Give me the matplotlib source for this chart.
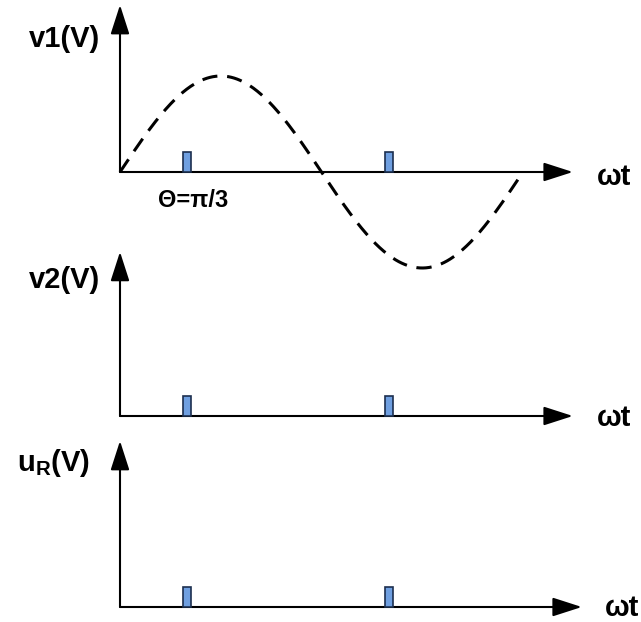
import numpy as np
import matplotlib
matplotlib.use("Agg")
import matplotlib.pyplot as plt

plt.rcParams['font.family'] = ['Liberation Sans', 'DejaVu Sans']
plt.rcParams['mathtext.fontset'] = 'custom'
plt.rcParams['mathtext.rm'] = 'Liberation Sans'
plt.rcParams['mathtext.bf'] = 'Liberation Sans:bold'

# data
panel_labels = ['v1(V)', 'v2(V)', r'$\mathbf{u_R(V)}$']
axis_label = 'ωt'
theta_label = 'Θ=π/3'
marker_angles = [np.pi / 3, 4 * np.pi / 3]
v1_amplitude = 1.0
v1_period = 2 * np.pi

# layout (pixels from top of a 641x622 figure)
W, H = 641, 622
x0_px = 120
px_per_rad = 403 / (2 * np.pi)
px_per_unit = 96
baselines = [172, 416, 607]
y_tips = [1.74, 1.71, 1.73]
x_ends = [7.06, 7.06, 7.20]
label_pos = [(-0.86, 1.385), (-0.86, 1.42), (-1.04, 1.50)]
wt_pos = [(7.44, -0.05), (7.44, -0.02), (7.56, -0.01)]

fig = plt.figure(figsize=(W / 100, H / 100), dpi=100)

xlim = (-x0_px / px_per_rad, (W - x0_px) / px_per_rad)

for i, b in enumerate(baselines):
    ax = fig.add_axes([0, 0, 1, 1])
    ax.set_facecolor('none')
    ax.set_xlim(*xlim)
    ax.set_ylim(-(H - b) / px_per_unit, b / px_per_unit)
    ax.axis('off')

    arrow = dict(arrowstyle='-|>,head_length=0.9,head_width=0.29',
                 mutation_scale=20, lw=1.5, color='black',
                 shrinkA=0, shrinkB=0)
    ax.annotate('', xy=(0, y_tips[i]), xytext=(0, 0), arrowprops=arrow)
    ax.annotate('', xy=(x_ends[i], 0), xytext=(0, 0), arrowprops=arrow)

    ax.bar(marker_angles, 0.21, width=0.125, bottom=0,
           color='#6f9fe0', edgecolor='#1c2f4f', lw=1.2, zorder=3)

    lx, ly = label_pos[i]
    ax.text(lx, ly, panel_labels[i], fontsize=21, fontweight='bold',
            ha='center', va='center')
    wx, wy = wt_pos[i]
    ax.text(wx, wy, axis_label, fontsize=21, fontweight='bold',
            ha='left', va='center')

    if i == 0:
        t = np.linspace(0, v1_period, 400)
        ax.plot(t, v1_amplitude * np.sin(t), color='black', lw=2.2,
                linestyle=(0, (5, 3.2)))
        ax.text(1.14, -0.30, theta_label, fontsize=17, fontweight='bold',
                ha='center', va='center')

fig.savefig('out.png', dpi=100)
